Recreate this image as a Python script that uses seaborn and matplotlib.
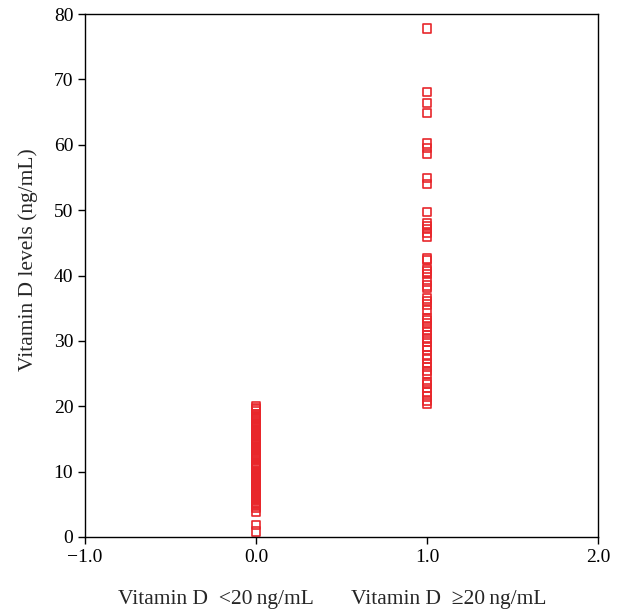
import pandas as pd
import matplotlib
matplotlib.use("Agg")
import matplotlib.pyplot as plt
import seaborn as sns

# Vitamin D levels (ng/mL)
low_vals = [0.8, 1.8, 3.9, 4.5, 4.7, 4.9, 5.1, 5.3, 5.5, 5.7, 5.9, 6.1, 6.3,
            6.5, 6.7, 6.9, 7.1, 7.3, 7.5, 7.7, 7.9, 8.1, 8.3, 8.5, 8.7, 8.9,
            9.1, 9.3, 9.5, 9.7, 9.9, 10.1, 10.3, 10.5, 10.7, 10.9, 11.1, 11.3,
            11.9, 12.1, 12.3, 12.5, 12.7, 12.9, 13.1, 13.3, 13.5, 13.7, 13.9,
            14.1, 14.3, 14.5, 14.7, 14.9, 15.1, 15.3, 15.5, 15.7, 15.9, 16.1,
            16.3, 16.5, 16.7, 16.9, 17.1, 17.3, 17.5, 17.7, 17.9, 18.1, 18.3,
            18.5, 18.7, 19.3, 19.5, 19.7, 20.0]
high_vals = [77.8, 68.1, 66.4, 64.9, 60.2, 59.5, 58.6, 54.9, 54.0, 49.7,
             48.0, 47.6, 47.1, 46.5, 46.0, 42.6, 42.4, 41.0, 40.6, 40.2, 39.1,
             38.5, 38.1, 36.5, 36.1, 35.6, 34.7, 33.4, 33.1, 32.7, 32.2, 31.5,
             30.9, 30.4, 29.9, 29.1, 28.6, 27.8, 27.2, 26.6, 26.0, 25.4, 25.0,
             23.7, 23.4, 22.8, 22.1, 21.5, 20.9, 20.4]
group_codes = [0, 1]
x_ticks = [-1.0, 0.0, 1.0, 2.0]
y_ticks = [0, 10, 20, 30, 40, 50, 60, 70, 80]
group_labels = ["Vitamin D  <20\u2009ng/mL", "Vitamin D  \u226520\u2009ng/mL"]

df = pd.DataFrame({
    "group": [group_codes[0]] * len(low_vals) + [group_codes[1]] * len(high_vals),
    "level": low_vals + high_vals,
})

sns.set_style("ticks")
plt.rcParams['font.family'] = ['Liberation Serif', 'DejaVu Serif']

fig = plt.figure(figsize=(6.21, 6.15), dpi=100)
ax = fig.add_axes([0.137, 0.127, 0.826, 0.850])

sns.scatterplot(data=df, x="group", y="level", ax=ax, marker="s", s=38,
                facecolors="none", edgecolor="#e8262b", linewidth=1.2)

ax.set_xlim(-1.0, 2.0)
ax.set_ylim(0, 80)
ax.set_xticks(x_ticks)
ax.set_xticklabels([f"{t:.1f}".replace("-", "\u2212") for t in x_ticks])
ax.set_yticks(y_ticks)
ax.tick_params(labelsize=14, direction="out", length=5, width=1, colors="black")
ax.set_xlabel("")
ax.set_ylabel("Vitamin D levels (ng/mL)", fontsize=15.5)
ax.yaxis.set_label_coords(-0.092, 0.53)
for sp in ax.spines.values():
    sp.set_visible(True)
    sp.set_color("black")
    sp.set_linewidth(1.0)

ax.text(0.255, -0.12, group_labels[0], transform=ax.transAxes, ha="center",
        va="center", fontsize=15.5)
ax.text(0.709, -0.12, group_labels[1], transform=ax.transAxes, ha="center",
        va="center", fontsize=15.5)

fig.savefig("out.png", dpi=100)
